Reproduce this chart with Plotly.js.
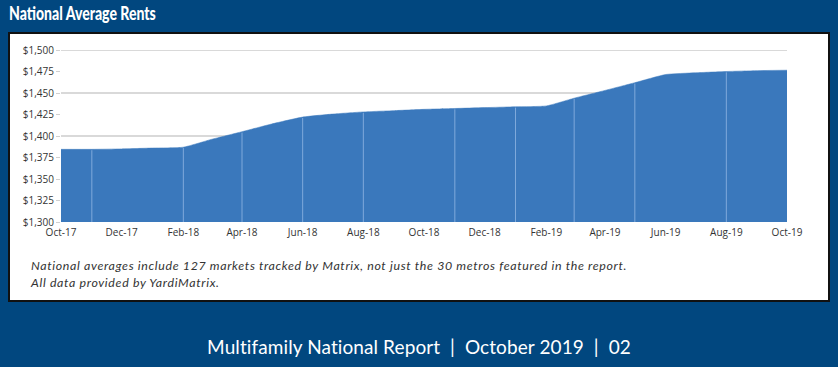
<!DOCTYPE html>
<html>
<head>
<meta charset="utf-8">
<script src="https://cdn.plot.ly/plotly-3.0.1.min.js"></script>
<style>
  html, body { margin: 0; padding: 0; }
  body { width: 838px; height: 367px; background: #01477f; position: relative; overflow: hidden; }
  #title { position: absolute; left: 9px; top: 2px; color: #fff; font-family: "Lato", sans-serif; font-weight: 900; font-size: 18px; transform: scaleX(0.78); transform-origin: 0 0; white-space: nowrap; }
  #box { position: absolute; left: 8px; top: 32px; width: 818px; height: 266px; background: #fff; border: 2px solid #111; }
  #chart { position: absolute; left: 0; top: 0; width: 838px; height: 367px; }
  #note { position: absolute; left: 31px; top: 257px; color: #333; font-family: "Lato", sans-serif; font-style: italic; font-size: 12.4px; letter-spacing: 0.65px; line-height: 17px; white-space: nowrap; }
  #footer { position: absolute; left: 0; width: 838px; top: 335px; text-align: center; color: #fff; font-family: "Lato", sans-serif; font-size: 19px; letter-spacing: 0.1px; }
</style>
</head>
<body>
<div id="title">National Average Rents</div>
<div id="box"></div>
<div id="chart"></div>
<div id="note">National averages include 127 markets tracked by Matrix, not just the 30 metros featured in the report.<br>All data provided by YardiMatrix.</div>
<div id="footer">Multifamily National Report&nbsp; |&nbsp; October 2019&nbsp; |&nbsp; 02</div>
<script>
// Monthly national average rent, Oct-17 .. Oct-19
const months = ['2017-10-01','2017-11-01','2017-12-01','2018-01-01','2018-02-01','2018-03-01','2018-04-01',
  '2018-05-01','2018-06-01','2018-07-01','2018-08-01','2018-09-01','2018-10-01','2018-11-01','2018-12-01',
  '2019-01-01','2019-02-01','2019-03-01','2019-04-01','2019-05-01','2019-06-01','2019-07-01','2019-08-01',
  '2019-09-01','2019-10-01'];
const rent = [1384.5, 1384.5, 1385, 1386, 1387, 1396, 1405, 1414, 1422, 1425.5, 1428, 1429.5, 1431,
  1432, 1433, 1434, 1435, 1444, 1453, 1462, 1471.5, 1473.5, 1475, 1476, 1476.5];
// light seams visible inside the filled area
const seamMonths = ['2017-11-01','2018-02-01','2018-04-01','2018-06-01','2018-08-01','2018-11-01',
  '2019-01-01','2019-03-01','2019-05-01','2019-08-01'];
const gridVals = [1400, 1450, 1500];
const yMin = 1300, yMax = 1500;

const seamX = [], seamY = [];
seamMonths.forEach(m => {
  const i = months.indexOf(m);
  seamX.push(m, m, null);
  seamY.push(yMin, rent[i] - 1, null);
});

const traces = [
  {
    x: months, y: rent, type: 'scatter', mode: 'lines',
    line: { color: '#3a78bc', width: 0.5, shape: 'spline', smoothing: 0.5 },
    fill: 'tozeroy', fillcolor: '#3a78bc', hoverinfo: 'skip'
  },
  {
    x: seamX, y: seamY, type: 'scatter', mode: 'lines',
    line: { color: 'rgba(150,185,230,0.75)', width: 1 }, hoverinfo: 'skip'
  }
];

const shapes = gridVals.map(v => ({
  type: 'line', xref: 'paper', x0: 0, x1: 1, yref: 'y', y0: v, y1: v,
  line: { color: '#d9d9d9', width: 2 }, layer: 'below'
}));

const layout = {
  width: 838, height: 367,
  margin: { l: 61, r: 51, t: 50, b: 145, pad: 0 },
  paper_bgcolor: 'rgba(0,0,0,0)', plot_bgcolor: 'rgba(0,0,0,0)',
  showlegend: false,
  font: { family: 'Open Sans, sans-serif', size: 10, color: '#333' },
  xaxis: {
    type: 'date', range: [months[0], months[months.length - 1]],
    dtick: 'M2', tick0: months[0], tickformat: '%b-%y',
    showgrid: false, zeroline: false, showline: false,
    ticks: '', ticklabelstandoff: 3, tickfont: { size: 10, color: '#333' }
  },
  yaxis: {
    range: [yMin, yMax], dtick: 25, tick0: yMin, tickformat: '$,.0f',
    showgrid: false, zeroline: false, showline: false,
    ticks: 'outside', ticklen: 4, tickcolor: '#d0d0d0', tickwidth: 1,
    tickfont: { size: 10, color: '#333' }
  },
  shapes: shapes
};

Plotly.newPlot('chart', traces, layout, { displayModeBar: false, staticPlot: true });
</script>
</body>
</html>
